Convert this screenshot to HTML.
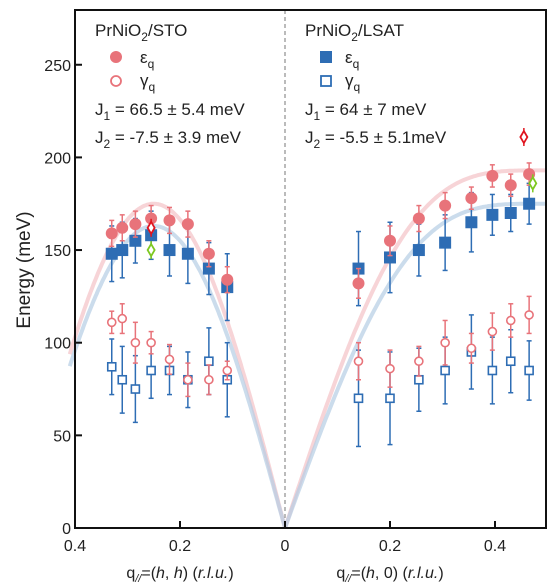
<!DOCTYPE html>
<html><head><meta charset="utf-8"><style>
body{margin:0;background:#fff}
svg{display:block;font-family:"Liberation Sans",sans-serif}
</style></head><body>
<svg id="chart" width="557" height="586" viewBox="0 0 557 586" xmlns="http://www.w3.org/2000/svg">
<g id="curves"></g>
<line x1="285" y1="10" x2="285" y2="528" stroke="#777" stroke-dasharray="4,3" stroke-width="1"/>
<g id="marks"></g>
<rect x="75" y="10" width="471" height="518" fill="none" stroke="#111" stroke-width="2"/>
<g id="axes" font-size="16" fill="#222"></g>
<text transform="translate(30,270) rotate(-90)" text-anchor="middle" font-size="19" fill="#222">Energy (meV)</text>
<text x="180" y="578" text-anchor="middle" font-size="16" fill="#222">q<tspan font-size="11" dy="4" font-style="italic">//</tspan><tspan dy="-4">=(</tspan><tspan font-style="italic">h</tspan>, <tspan font-style="italic">h</tspan>) (<tspan font-style="italic">r.l.u.</tspan>)</text>
<text x="390" y="578" text-anchor="middle" font-size="16" fill="#222">q<tspan font-size="11" dy="4" font-style="italic">//</tspan><tspan dy="-4">=(</tspan><tspan font-style="italic">h</tspan>, 0) (<tspan font-style="italic">r.l.u.</tspan>)</text>
<g font-size="17" fill="#222">
<text x="95" y="36">PrNiO<tspan font-size="12" dy="5">2</tspan><tspan dy="-5">/STO</tspan></text>
<circle cx="116" cy="57" r="6" fill="#e8737a"/>
<text x="140" y="63">ε<tspan font-size="12" dy="5">q</tspan></text>
<circle cx="116" cy="81" r="5" fill="none" stroke="#e8737a" stroke-width="1.8"/>
<text x="140" y="86">γ<tspan font-size="12" dy="5">q</tspan></text>
<text x="95" y="115">J<tspan font-size="12" dy="5">1</tspan><tspan dy="-5"> = 66.5 ± 5.4 meV</tspan></text>
<text x="95" y="143">J<tspan font-size="12" dy="5">2</tspan><tspan dy="-5"> = -7.5 ± 3.9 meV</tspan></text>
</g>
<g font-size="17" fill="#222">
<text x="305" y="36">PrNiO<tspan font-size="12" dy="5">2</tspan><tspan dy="-5">/LSAT</tspan></text>
<rect x="320" y="51" width="12" height="12" fill="#2e6db4"/>
<text x="345" y="63">ε<tspan font-size="12" dy="5">q</tspan></text>
<rect x="321" y="76" width="10" height="10" fill="none" stroke="#2e6db4" stroke-width="1.8"/>
<text x="345" y="86">γ<tspan font-size="12" dy="5">q</tspan></text>
<text x="305" y="115">J<tspan font-size="12" dy="5">1</tspan><tspan dy="-5"> = 64 ± 7 meV</tspan></text>
<text x="305" y="143">J<tspan font-size="12" dy="5">2</tspan><tspan dy="-5"> = -5.5 ± 5.1meV</tspan></text>
</g>
</svg>
<script>
// Left panel (h,h) - STO
const stoQ = [0.33,0.31,0.285,0.255,0.22,0.185,0.145,0.11];
const stoEps = [159,162,164,167,166,164,148,134];
const stoEpsErr = [7,7,7,7,7,7,7,7];
const stoEpsSqE = [148,150,155,158,150,148,140,130];
const stoEpsSqErr = [15,15,12,13,14,16,14,18];
const stoGam = [111,113,100,100,91,80,80,85];
const stoGamErr = [6,8,11,6,8,9,8,5];
const stoGamSq = [87,80,75,85,85,80,90,80];
const stoGamSqErr = [15,18,18,15,13,15,18,20];
// Right panel (h,0) - LSAT
const lsatQ = [0.14,0.2,0.255,0.305,0.355,0.395,0.43,0.465];
const lsatEps = [132,155,167,174,178,190,185,191];
const lsatEpsErr = [8,8,7,7,6,6,6,6];
const lsatSq = [140,146,150,154,165,169,170,175];
const lsatSqErr = [20,19,14,15,16,11,10,11];
const lsatGam = [90,86,90,100,97,106,112,115];
const lsatGamErr = [10,10,8,12,8,10,9,10];
const lsatGamSq = [70,70,80,85,95,85,90,85];
const lsatGamSqErr = [26,25,17,18,20,18,17,16];
// extra markers [side, q, E]
const redDiamonds = [[-1,0.255,162],[1,0.455,211]];
const greenDiamonds = [[-1,0.255,150],[1,0.472,186]];
// fit amplitudes
const stoFitAmp = [175,163];
const lsatFitAmp = [193,175];
const yTicks = [0,50,100,150,200,250];
const xTicks = [-0.4,-0.2,0,0.2,0.4];

const NS='http://www.w3.org/2000/svg';
const X0=285, XS=525, Y0=528, YS=1.853;
const xs=(side,q)=>X0+side*q*XS;
const ys=E=>Y0-E*YS;
function mk(tag,attrs,parent){const e=document.createElementNS(NS,tag);for(const k in attrs)e.setAttribute(k,attrs[k]);parent.appendChild(e);return e;}
const curves=document.getElementById('curves'), marks=document.getElementById('marks'), axes=document.getElementById('axes');
const PINK='#e8737a', BLUE='#2e6db4';

function curve(fn, amp, side, qmax, color, name){
  let d='';
  for(let i=0;i<=200;i++){const q=qmax*i/200;d+=(i?'L':'M')+xs(side,q).toFixed(1)+','+ys(amp*fn(q)).toFixed(1);}
  const p=mk('path',{d:d,fill:'none',stroke:color,'stroke-width':4,'stroke-opacity':0.7},curves);
  
  
}
const fHH=q=>Math.abs(Math.sin(2*Math.PI*q));
const fH0=q=>{const g=(Math.cos(2*Math.PI*q)+1)/2;return Math.sqrt(1-g*g);};
curve(fHH,stoFitAmp[0],-1,0.41,'#f4c2c6','fit-curve-sto-eps');
curve(fHH,stoFitAmp[1],-1,0.41,'#b5cde4','fit-curve-sto-sq');
curve(fH0,lsatFitAmp[0],1,0.497,'#f4c2c6','fit-curve-lsat-eps');
curve(fH0,lsatFitAmp[1],1,0.497,'#b5cde4','fit-curve-lsat-sq');

function series(side,qs,es,errs,color,shape,filled,name){
  qs.forEach((q,i)=>{
    const x=xs(side,q), y=ys(es[i]), e=errs[i]*YS;
    const g=mk('g',{},marks);
    
    
    mk('line',{x1:x,x2:x,y1:y-e,y2:y+e,stroke:color,'stroke-width':1.5},g);
    mk('line',{x1:x-2.5,x2:x+2.5,y1:y-e,y2:y-e,stroke:color,'stroke-width':1.5},g);
    mk('line',{x1:x-2.5,x2:x+2.5,y1:y+e,y2:y+e,stroke:color,'stroke-width':1.5},g);
    if(shape==='c'){
      if(filled) mk('circle',{cx:x,cy:y,r:6,fill:color},g);
      else mk('circle',{cx:x,cy:y,r:4,fill:'#fff',stroke:color,'stroke-width':1.6},g);
    } else {
      if(filled) mk('rect',{x:x-6,y:y-6,width:12,height:12,fill:color},g);
      else mk('rect',{x:x-4,y:y-4,width:8,height:8,fill:'#fff',stroke:color,'stroke-width':1.6},g);
    }
  });
}
series(-1,stoQ,stoGamSq,stoGamSqErr,BLUE,'s',false,'sto-gamma-square');
series(-1,stoQ,stoGam,stoGamErr,PINK,'c',false,'sto-gamma-circle');
series(-1,stoQ,stoEpsSqE,stoEpsSqErr,BLUE,'s',true,'sto-eps-square');
series(-1,stoQ,stoEps,stoEpsErr,PINK,'c',true,'sto-eps-circle');
series(1,lsatQ,lsatGamSq,lsatGamSqErr,BLUE,'s',false,'lsat-gamma-square');
series(1,lsatQ,lsatGam,lsatGamErr,PINK,'c',false,'lsat-gamma-circle');
series(1,lsatQ,lsatSq,lsatSqErr,BLUE,'s',true,'lsat-eps-square');
series(1,lsatQ,lsatEps,lsatEpsErr,PINK,'c',true,'lsat-eps-circle');
function diamonds(arr,color,name){arr.forEach(([s,q,E])=>{
  const x=xs(s,q),y=ys(E);
  const g=mk('g',{},marks);
  
  
  mk('line',{x1:x,x2:x,y1:y-9,y2:y+9,stroke:color,'stroke-width':1.5},g);
  mk('path',{d:`M${x},${y-6}L${x+3.5},${y}L${x},${y+6}L${x-3.5},${y}Z`,fill:'#fff',stroke:color,'stroke-width':1.8},g);
});}
diamonds(greenDiamonds,'#7dc820','green-diamond');
diamonds(redDiamonds,'#e0141e','red-diamond');

yTicks.forEach(v=>{
  const y=ys(v);
  const l=mk('line',{x1:75,x2:82,y1:y,y2:y,stroke:'#111','stroke-width':2},axes);
  
  
  const t=mk('text',{x:71,y:y+6,'text-anchor':'end'},axes);
  t.textContent=v;
  
  
});
xTicks.forEach(v=>{
  const x=X0+v*XS;
  const l=mk('line',{x1:x,x2:x,y1:528,y2:521,stroke:'#111','stroke-width':2},axes);
  
  
  const t=mk('text',{x:x,y:551,'text-anchor':'middle'},axes);
  t.textContent=Math.abs(v)===0?'0':Math.abs(v).toFixed(1);
  
  
});
</script>
</body></html>
